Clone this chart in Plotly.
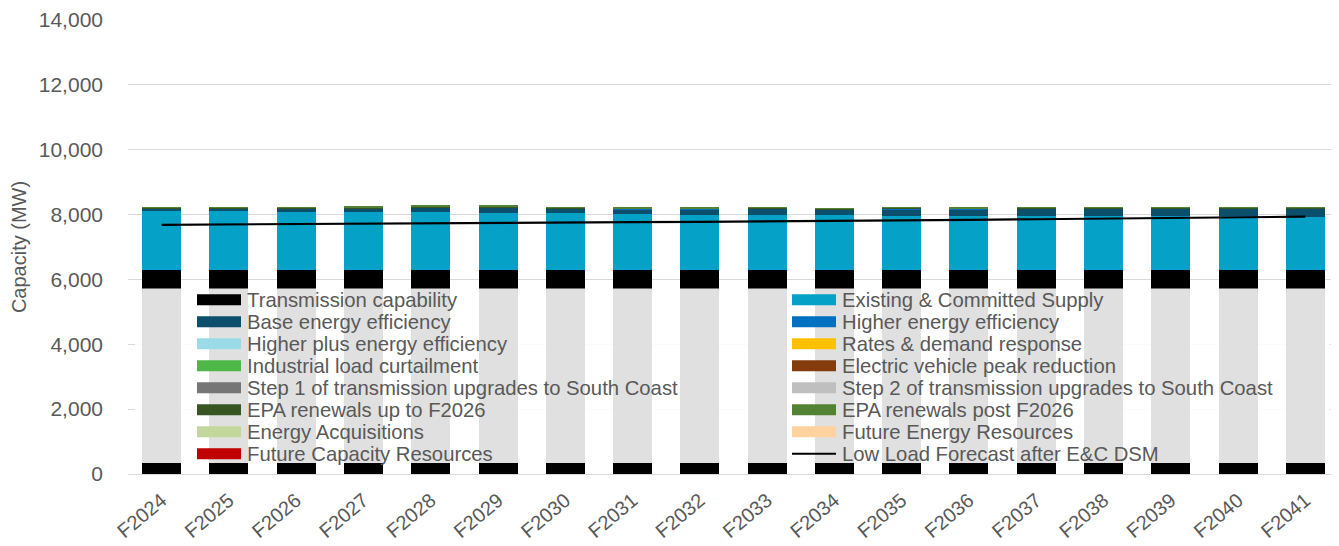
import plotly.graph_objects as go

years = ["F2024", "F2025", "F2026", "F2027", "F2028", "F2029", "F2030", "F2031", "F2032",
         "F2033", "F2034", "F2035", "F2036", "F2037", "F2038", "F2039", "F2040", "F2041"]

transmission = [6300, 6300, 6300, 6300, 6300, 6300, 6300, 6300, 6300,
                6300, 6300, 6300, 6300, 6300, 6300, 6300, 6300, 6300]
existing = [1823, 1814, 1792, 1792, 1792, 1762, 1762, 1722, 1691,
            1691, 1691, 1669, 1669, 1669, 1660, 1660, 1660, 1638]
base_ee = [74, 83, 105, 105, 125, 150, 130, 145, 175,
           195, 165, 195, 195, 215, 225, 225, 225, 245]
higher_ee = [0, 0, 0, 0, 0, 5, 5, 9, 10, 11, 10, 12, 12, 13, 12, 12, 12, 14]
higher_plus_ee = [0, 0, 0, 0, 0, 0, 0, 0, 0, 0, 0, 0, 0, 0, 0, 0, 0, 0]
rates_dr = [0, 0, 0, 0, 0, 0, 0, 0, 0, 0, 0, 0, 0, 0, 0, 0, 0, 0]
industrial = [0, 0, 0, 0, 0, 0, 0, 0, 0, 0, 0, 0, 0, 0, 0, 0, 0, 0]
ev_peak = [0, 0, 0, 0, 0, 0, 0, 0, 0, 0, 0, 0, 0, 0, 0, 0, 0, 0]
step1 = [0, 0, 0, 0, 0, 0, 0, 0, 0, 0, 0, 0, 0, 0, 0, 0, 0, 0]
step2 = [0, 0, 0, 0, 0, 0, 0, 0, 0, 0, 0, 0, 0, 0, 0, 0, 0, 0]
epa_up = [20, 20, 20, 35, 35, 35, 20, 25, 25, 20, 20, 30, 25, 20, 20, 20, 20, 20]
epa_post = [11, 11, 5, 36, 16, 16, 5, 16, 16, 11, 11, 22, 16, 11, 11, 11, 11, 11]
energy_acq = [0, 0, 0, 0, 0, 0, 0, 0, 0, 0, 0, 0, 0, 0, 0, 0, 0, 0]
future_energy = [0, 0, 0, 0, 0, 0, 0, 0, 0, 0, 0, 0, 0, 0, 0, 0, 0, 0]
future_capacity = [0, 0, 0, 0, 0, 0, 0, 0, 0, 0, 0, 0, 0, 0, 0, 0, 0, 0]
low_load = [7685, 7700, 7715, 7730, 7745, 7755, 7762, 7768, 7775,
            7785, 7800, 7815, 7835, 7855, 7870, 7885, 7905, 7935]

series = [
    ("Transmission capability", transmission, "#000000"),
    ("Existing & Committed Supply", existing, "#05A1C6"),
    ("Base energy efficiency", base_ee, "#0B4F6C"),
    ("Higher energy efficiency", higher_ee, "#0070C0"),
    ("Higher plus energy efficiency", higher_plus_ee, "#9BDBE8"),
    ("Rates & demand response", rates_dr, "#FFC000"),
    ("Industrial load curtailment", industrial, "#4DB848"),
    ("Electric vehicle peak reduction", ev_peak, "#843C0C"),
    ("Step 1 of transmission upgrades to South Coast", step1, "#767676"),
    ("Step 2 of transmission upgrades to South Coast", step2, "#BFBFBF"),
    ("EPA renewals up to F2026", epa_up, "#375623"),
    ("EPA renewals post F2026", epa_post, "#548235"),
    ("Energy Acquisitions", energy_acq, "#C3D69B"),
    ("Future Energy Resources", future_energy, "#FFD29F"),
    ("Future Capacity Resources", future_capacity, "#C00000"),
]
line_name = "Low Load Forecast after E&C DSM"

# page body has an 8px margin; figure sized to fit window
OFF = 8
W, H = 1339 - OFF, 546 - OFF
ML, MR, MT, MB = 128 - OFF, 0, 20 - OFF, 546 - 474 - 0
PW, PH = W - ML - MR, H - MT - MB

def px2x(px):  # page px -> paper
    return (px - OFF - ML) / PW

def px2y(py):
    return (H - MB - (py - OFF)) / PH

TXT = "#595959"
FONT = "Liberation Sans, Arial, sans-serif"

fig = go.Figure()
for name, vals, col in series:
    fig.add_trace(go.Bar(x=years, y=vals, name=name, marker=dict(color=col, line=dict(width=0)),
                         showlegend=False))
fig.add_trace(go.Scatter(x=years, y=low_load, name=line_name, mode="lines",
                         line=dict(color="#000000", width=2.2), showlegend=False))

shapes = []
annotations = []
# semi-transparent legend box
shapes.append(dict(type="rect", xref="paper", yref="paper", layer="above",
                   x0=px2x(135), x1=px2x(1330), y0=px2y(463), y1=px2y(288.5),
                   fillcolor="rgba(255,255,255,0.88)", line=dict(width=0)))

entries = [(n, c, "bar") for n, _, c in series] + [(line_name, "#000000", "line")]
for i, (name, col, kind) in enumerate(entries):
    row, colidx = divmod(i, 2)
    cy = 299.7 + row * 22
    sx0 = 197 if colidx == 0 else 792
    tx = 245 if colidx == 0 else 840
    if kind == "bar":
        shapes.append(dict(type="rect", xref="paper", yref="paper", layer="above",
                           x0=px2x(sx0), x1=px2x(sx0 + 44), y0=px2y(cy + 5.5), y1=px2y(cy - 5.5),
                           fillcolor=col, line=dict(width=0)))
    else:
        shapes.append(dict(type="line", xref="paper", yref="paper", layer="above",
                           x0=px2x(sx0), x1=px2x(sx0 + 44), y0=px2y(cy), y1=px2y(cy),
                           line=dict(color=col, width=2)))
    annotations.append(dict(xref="paper", yref="paper", x=px2x(tx), y=px2y(cy),
                            xanchor="left", yanchor="middle", showarrow=False,
                            text=name, font=dict(size=20.3, color=TXT, family=FONT)))

fig.update_layout(
    barmode="stack",
    bargap=0.42,
    width=W, height=H,
    margin=dict(l=ML, r=MR, t=MT, b=MB, autoexpand=False),
    paper_bgcolor="white", plot_bgcolor="white",
    font=dict(family=FONT, color=TXT),
    showlegend=False,
    shapes=shapes,
    annotations=annotations,
    xaxis=dict(tickangle=-40, tickfont=dict(size=20, color=TXT), showgrid=False,
               showline=False, ticks="", ticklabelstandoff=10, automargin=False),
    yaxis=dict(range=[0, 14000], dtick=2000, tickformat=",d", tickfont=dict(size=21, color=TXT),
               gridcolor="#D9D9D9", gridwidth=1, zeroline=True, zerolinecolor="#D9D9D9",
               zerolinewidth=1, showline=False, ticklabelstandoff=24, automargin=False,
               title=dict(text="Capacity (MW)", font=dict(size=20, color=TXT), standoff=8)),
)

fig.write_html("out.html")
